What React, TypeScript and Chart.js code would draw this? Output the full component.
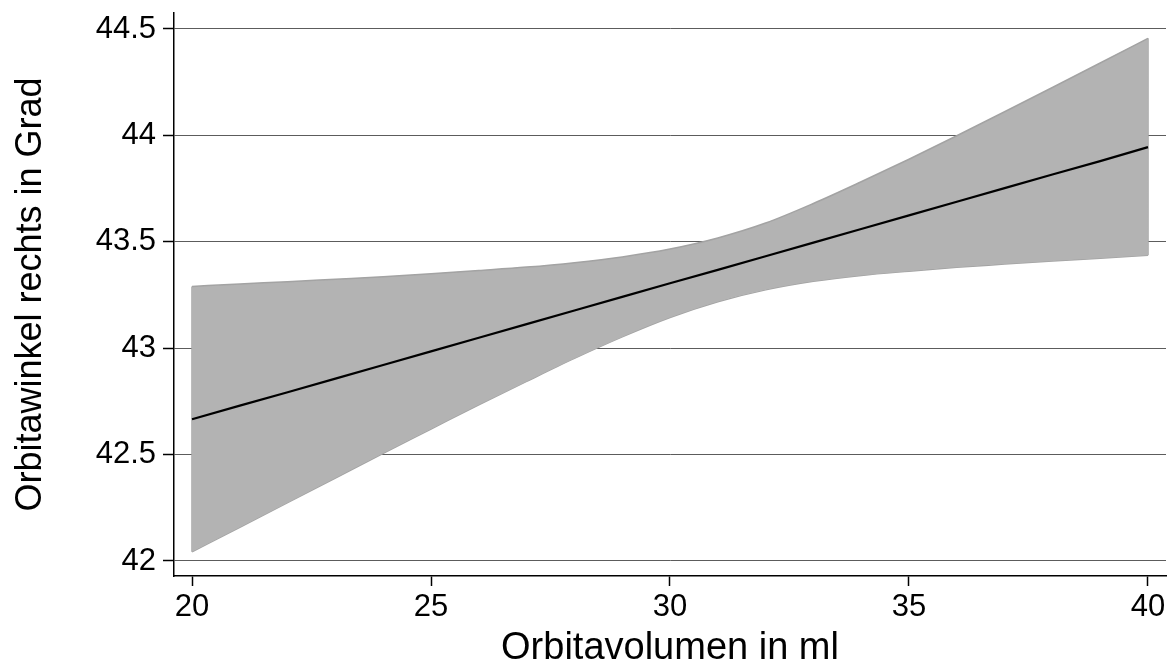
import React, { useEffect, useRef } from "react";
import { Chart, registerables } from "chart.js";

Chart.register(...registerables);

const xValues = [20, 21, 22, 23, 24, 25, 26, 27, 28, 29, 30, 31, 32, 33, 34, 35, 36, 37, 38, 39, 40];
const fitValues = [42.666, 42.730, 42.793, 42.857, 42.921, 42.985, 43.049, 43.113, 43.177, 43.241, 43.305, 43.368, 43.432, 43.496, 43.560, 43.624, 43.688, 43.752, 43.816, 43.879, 43.945];
const upperValues = [43.290, 43.302, 43.312, 43.324, 43.336, 43.350, 43.365, 43.381, 43.402, 43.429, 43.466, 43.518, 43.588, 43.680, 43.782, 43.888, 43.998, 44.111, 44.225, 44.340, 44.456];
const lowerValues = [42.043, 42.158, 42.274, 42.390, 42.506, 42.620, 42.734, 42.844, 42.952, 43.053, 43.144, 43.218, 43.274, 43.314, 43.342, 43.362, 43.380, 43.395, 43.410, 43.423, 43.437];

const xTicks = [20, 25, 30, 35, 40];
const yTicks = [42, 42.5, 43, 43.5, 44, 44.5];

const xTitle = "Orbitavolumen in ml";
const yTitle = "Orbitawinkel rechts in Grad";

const FONT = "'Liberation Sans', Arial, Helvetica, sans-serif";

export default function App() {
  const canvasRef = useRef<HTMLCanvasElement | null>(null);

  useEffect(() => {
    const canvas = canvasRef.current;
    if (!canvas) return;
    const pts = (ys: number[]) => xValues.map((x, i) => ({ x, y: ys[i] }));
    const first = 0;
    const last = xValues.length - 1;
    const bandFill = "#b3b3b3";
    const bandEdge = "#a3a3a3";

    const chart = new Chart(canvas, {
      type: "line",
      data: {
        datasets: [
          {
            label: "fit",
            data: pts(fitValues),
            borderColor: "#000000",
            borderWidth: 2.2,
            pointRadius: 0,
            fill: false,
          },
          {
            label: "upper",
            data: pts(upperValues),
            borderColor: bandEdge,
            borderWidth: 1.5,
            backgroundColor: bandFill,
            pointRadius: 0,
            cubicInterpolationMode: "monotone",
            fill: { target: 2 },
          },
          {
            label: "lower",
            data: pts(lowerValues),
            borderColor: bandEdge,
            borderWidth: 1.5,
            pointRadius: 0,
            cubicInterpolationMode: "monotone",
            fill: false,
          },
          {
            label: "leftEdge",
            data: [
              { x: xValues[first], y: lowerValues[first] },
              { x: xValues[first], y: upperValues[first] },
            ],
            borderColor: bandEdge,
            borderWidth: 1.5,
            pointRadius: 0,
            fill: false,
          },
          {
            label: "rightEdge",
            data: [
              { x: xValues[last], y: lowerValues[last] },
              { x: xValues[last], y: upperValues[last] },
            ],
            borderColor: bandEdge,
            borderWidth: 1.5,
            pointRadius: 0,
            fill: false,
          },
        ],
      },
      options: {
        animation: false,
        responsive: false,
        maintainAspectRatio: false,
        layout: { padding: { top: 13, right: 8, left: 0, bottom: 0 } },
        plugins: {
          legend: { display: false },
          tooltip: { enabled: false },
        },
        scales: {
          x: {
            type: "linear",
            min: 19.623,
            max: 40.377,
            afterBuildTicks: (scale: any) => {
              scale.ticks = xTicks.map((v) => ({ value: v }));
            },
            afterFit: (scale: any) => {
              scale.height = 93;
            },
            grid: {
              drawOnChartArea: false,
              drawTicks: true,
              tickLength: 10,
              tickColor: "#000000",
              tickWidth: 1.5,
            },
            border: { display: true, color: "#000000", width: 1.5 },
            ticks: {
              color: "#000000",
              padding: 3,
              maxRotation: 0,
              callback: (v: any) => String(v),
              font: { family: FONT, size: 31, lineHeight: 1.2 },
            },
            title: {
              display: true,
              text: xTitle,
              color: "#000000",
              padding: { top: 0, bottom: 1 },
              font: { family: FONT, size: 38, lineHeight: 1 },
            },
          },
          y: {
            type: "linear",
            min: 41.9295,
            max: 44.575,
            afterBuildTicks: (scale: any) => {
              scale.ticks = yTicks.map((v) => ({ value: v }));
            },
            afterFit: (scale: any) => {
              scale.width = 174;
            },
            grid: {
              drawOnChartArea: true,
              drawTicks: true,
              tickLength: 11,
              color: "#5c5c5c",
              lineWidth: 1,
              tickColor: "#000000",
              tickWidth: 1.5,
            },
            border: { display: true, color: "#000000", width: 1.5 },
            ticks: {
              color: "#000000",
              padding: 7,
              callback: (v: any) => String(v),
              font: { family: FONT, size: 31, lineHeight: 0.3 },
            },
            title: {
              display: true,
              text: yTitle,
              color: "#000000",
              padding: { top: 13, bottom: 0 },
              font: { family: FONT, size: 36, lineHeight: 1 },
            },
          },
        },
      },
    } as any);

    return () => {
      chart.destroy();
    };
  }, []);

  return (
    <div style={{ position: "fixed", left: 0, top: 0, width: 1174, height: 669, background: "#ffffff" }}>
      <canvas ref={canvasRef} width={1174} height={669} style={{ display: "block", width: 1174, height: 669 }} />
    </div>
  );
}
